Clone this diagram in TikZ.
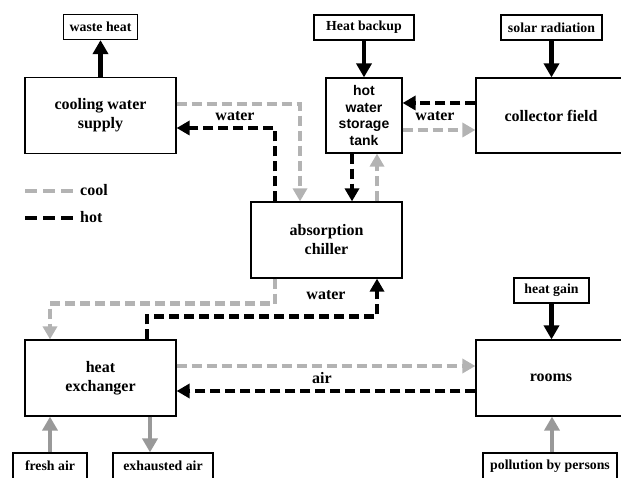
\documentclass[tikz,border=0pt]{standalone}
\usepackage{fontspec}
\setmainfont{Liberation Serif}
\newfontfamily\tanksans{Liberation Sans}
\usetikzlibrary{arrows.meta}
\definecolor{coolgray}{HTML}{B3B3B3}
\definecolor{airgray}{HTML}{999999}
\tikzset{
 box/.style={draw, line width=1.2pt, minimum width=151pt, minimum height=76pt, inner sep=0pt, align=center, font=\bfseries\fontsize{16}{19}\selectfont},
 lbl/.style={draw, line width=1.2pt, minimum height=25pt, inner sep=0pt, font=\bfseries\fontsize{13.8}{16}\selectfont},
 txt/.style={inner sep=0pt, font=\bfseries\fontsize{16}{19}\selectfont},
 solidarrow/.style={line width=4.5pt, -{Triangle[length=14pt,width=15pt]}},
 hotflow/.style={line width=4.5pt, dash pattern=on 10pt off 5pt, -{Triangle[length=13pt,width=14pt]}},
 coolflow/.style={hotflow, draw=coolgray},
 legline/.style={line width=4.5pt, dash pattern=on 12pt off 6pt},
}
\begin{document}
\begin{tikzpicture}[x=1pt,y=-1pt]
\useasboundingbox (0,0) rectangle (621,478);
\clip (0,0) rectangle (621,478);
% boxes
\node[lbl, minimum width=74pt] (waste) at (100.5,27) {waste heat};
\node[box] (cws) at (100.5,115.5) {cooling water\\supply};
\node[lbl, minimum width=100pt] (backup) at (364,27.5) {Heat backup};
\node[box, minimum width=76pt, minimum height=75pt, font=\tanksans\bfseries\fontsize{14}{16.5}\selectfont] (tank) at (364,115.5) {hot\\water\\storage\\tank};
\node[lbl, minimum width=101pt] (solar) at (551.5,27.5) {solar radiation};
\node[box, minimum width=150pt, minimum height=75pt] (coll) at (551,115.5) {collector field};
\node[box] (chiller) at (326.5,240) {absorption\\chiller};
\node[box] (hx) at (100.5,378) {heat\\exchanger};
\node[box, minimum width=150pt] (rooms) at (551,378) {rooms};
\node[lbl, minimum width=75pt] (gain) at (551.5,290.5) {heat gain};
\node[lbl, minimum width=74pt, minimum height=26pt] (fresh) at (50,466) {fresh air};
\node[lbl, minimum width=100pt, minimum height=26pt] (exh) at (163,466) {exhausted air};
\node[lbl, minimum width=134pt, minimum height=26pt] (poll) at (550,466) {pollution by persons};
% solid arrows
\draw[solidarrow] (cws.north) -- (waste.south);
\draw[solidarrow] (backup.south) -- (tank.north);
\draw[solidarrow] (solar.south) -- (solar.south |- coll.north);
\draw[solidarrow] (gain.south) -- (gain.south |- rooms.north);
\draw[solidarrow, draw=airgray] (fresh.north) -- (fresh.north |- hx.south);
\draw[solidarrow, draw=airgray] ([xshift=49.5pt]hx.south) -- ([xshift=49.5pt]hx.south |- exh.north);
\draw[solidarrow, draw=airgray] ([xshift=1pt]poll.north -| rooms.south) -- ([xshift=1pt]rooms.south);
% water loops
\draw[coolflow] ([yshift=11.5pt]cws.east) -| ([xshift=-26.5pt]chiller.north);
\draw[hotflow] ([xshift=-51.5pt]chiller.north) |- ([yshift=-12.5pt]cws.east);
\draw[hotflow] ([yshift=12.5pt]coll.west) -- ([yshift=12.5pt]tank.east);
\draw[coolflow] ([yshift=-14.5pt]tank.east) -- ([yshift=-14.5pt]coll.west);
\draw[hotflow] ([xshift=-12pt]tank.south) -- ([xshift=-12pt]tank.south |- chiller.north);
\draw[coolflow] ([xshift=13pt]tank.south |- chiller.north) -- ([xshift=13pt]tank.south);
\draw[coolflow] ([xshift=-51.5pt]chiller.south) -- ++(0,25) -| ([xshift=-50.5pt]hx.north);
\draw[hotflow] ([xshift=46.5pt]hx.north) -- ++(0,-23) -| ([xshift=50.5pt]chiller.south);
% air loop
\draw[coolflow] ([yshift=12pt]hx.east) -- ([yshift=12pt]rooms.west);
\draw[hotflow] ([yshift=-13pt]rooms.west) -- ([yshift=-13pt]hx.east);
% labels
\node[txt] (w1) at (235,116) {water};
\node[txt] (w2) at (435,116) {water};
\node[txt] (w3) at (326,295) {water};
\node[txt] (airl) at (322,378) {air};
% legend
\coordinate (c1) at (25,191); \coordinate (c2) at (73,191);
\coordinate (h1) at (25,218); \coordinate (h2) at (73,218);
\draw[legline, draw=coolgray] (c1) -- (c2);
\draw[legline] (h1) -- (h2);
\node[txt, anchor=west] (coolt) at (80,190) {cool};
\node[txt, anchor=west] (hott) at (80,217) {hot};
\end{tikzpicture}
\end{document}
